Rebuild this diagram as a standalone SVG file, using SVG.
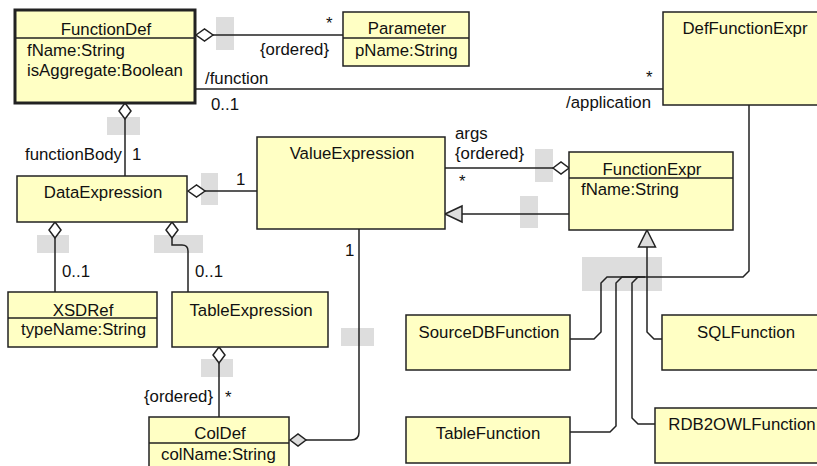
<svg xmlns="http://www.w3.org/2000/svg" width="817" height="466" viewBox="0 0 817 466">
<style>
.box{fill:#ffffc4;stroke:#222;stroke-width:1.5}
.sep{stroke:#222;stroke-width:1.5}
.t{font-family:"Liberation Sans",Arial,sans-serif;font-size:16.8px;fill:#111}
.m{text-anchor:middle}
.e{text-anchor:end}
.ln{fill:none;stroke:#222;stroke-width:1.5}
.lbl{fill:#dddddd}
.dia{fill:#fff;stroke:#222;stroke-width:1.5}
.gdia{fill:#ddd;stroke:#222;stroke-width:1.5}
.tri{fill:#ddd;stroke:#222;stroke-width:1.5}
</style>
<rect width="817" height="466" fill="#fff"/>
<g id="label-boxes">
<rect class="lbl" x="216" y="17" width="18" height="33"/>
<rect class="lbl" x="107" y="117" width="33" height="18"/>
<rect class="lbl" x="201" y="173" width="17" height="32"/>
<rect class="lbl" x="37" y="235" width="32" height="18"/>
<rect class="lbl" x="154" y="235" width="49" height="18"/>
<rect class="lbl" x="201" y="359" width="32" height="18"/>
<rect class="lbl" x="341" y="328" width="33" height="18"/>
<rect class="lbl" x="535" y="149" width="18" height="33"/>
<rect class="lbl" x="520" y="196" width="18" height="32"/>
<rect class="lbl" x="582" y="257" width="80" height="34"/>
</g>
<g id="connectors">
<line class="ln" x1="213" y1="35" x2="343" y2="35"/>
<polygon class="dia" points="196,35 204.5,29 213,35 204.5,41"/>
<line class="ln" x1="195" y1="89" x2="663" y2="89"/>
<line class="ln" x1="125" y1="119" x2="125" y2="176"/>
<polygon class="dia" points="125,103 131,111 125,119 119,111"/>
<line class="ln" x1="205" y1="191" x2="257" y2="191"/>
<polygon class="dia" points="188,191 196.5,185 205,191 196.5,197"/>
<line class="ln" x1="55" y1="238" x2="55" y2="292"/>
<polygon class="dia" points="55,222 61,230 55,238 49,230"/>
<path class="ln" d="M172,238 V245 H182 Q188,245 188,251 V292"/>
<polygon class="dia" points="172,222 178,230 172,238 166,230"/>
<line class="ln" x1="445" y1="168" x2="553" y2="168"/>
<polygon class="dia" points="553,168 561,162 569,168 561,174"/>
<line class="ln" x1="569" y1="214" x2="462" y2="214"/>
<polygon class="tri" points="445,214 462,206 462,222"/>
<line class="ln" x1="219" y1="363" x2="219" y2="417"/>
<polygon class="dia" points="219,347 225,355 219,363 213,355"/>
<path class="ln" d="M306,440 H351 Q359,440 359,432 V229"/>
<polygon class="gdia" points="290,440 298,434 306,440 298,446"/>
<path class="ln" d="M647,247 V332 L654,339 H662"/>
<path class="ln" d="M570,339 H594 L601,332 V283 L607,277 H743 L749,271 V105"/>
<path class="ln" d="M570,432 H610 L616,426 V283 L622,277 H640"/>
<path class="ln" d="M655,424 H638 L632,418 V283 L638,277 H645"/>
<polygon class="tri" points="647,230 655.5,247 638.5,247"/>
</g>
<g id="labels" class="t">
<text x="326" y="29">*</text>
<text x="260" y="55">{ordered}</text>
<text x="205" y="84">/function</text>
<text x="211" y="110">0..1</text>
<text x="646" y="83">*</text>
<text class="e" x="651" y="108">/application</text>
<text class="e" x="122" y="160">functionBody</text>
<text x="132" y="160">1</text>
<text x="236" y="185">1</text>
<text x="455" y="139">args</text>
<text x="455" y="159">{ordered}</text>
<text x="459" y="187">*</text>
<text x="62" y="277">0..1</text>
<text x="195" y="277">0..1</text>
<text class="e" x="213" y="402">{ordered}</text>
<text x="225" y="403">*</text>
<text x="345" y="256">1</text>
</g>
<g id="FunctionDef">
<rect class="box" x="15" y="10" width="180" height="93" style="stroke-width:3"/>
<line class="sep" x1="15" y1="38" x2="195" y2="38"/>
<text class="t m" x="106" y="35">FunctionDef</text>
<text class="t" x="27" y="56">fName:String</text>
<text class="t" x="27" y="76">isAggregate:Boolean</text>
</g>
<g id="Parameter">
<rect class="box" x="343" y="12" width="126" height="54"/>
<line class="sep" x1="343" y1="38" x2="469" y2="38"/>
<text class="t m" x="407" y="34">Parameter</text>
<text class="t" x="355" y="56">pName:String</text>
</g>
<g id="DefFunctionExpr">
<rect class="box" x="663" y="12" width="165" height="93"/>
<text class="t m" x="745" y="34">DefFunctionExpr</text>
</g>
<g id="ValueExpression">
<rect class="box" x="257" y="137" width="188" height="92"/>
<text class="t m" x="352" y="159">ValueExpression</text>
</g>
<g id="FunctionExpr">
<rect class="box" x="569" y="152" width="164" height="78"/>
<line class="sep" x1="569" y1="178" x2="733" y2="178"/>
<text class="t m" x="652" y="175">FunctionExpr</text>
<text class="t" x="581" y="195">fName:String</text>
</g>
<g id="DataExpression">
<rect class="box" x="17" y="176" width="170" height="46"/>
<text class="t m" x="103" y="198">DataExpression</text>
</g>
<g id="XSDRef">
<rect class="box" x="8" y="292" width="149" height="55"/>
<line class="sep" x1="8" y1="318" x2="157" y2="318"/>
<text class="t m" x="83" y="316">XSDRef</text>
<text class="t" x="21" y="335">typeName:String</text>
</g>
<g id="TableExpression">
<rect class="box" x="172" y="292" width="156" height="55"/>
<text class="t m" x="251" y="316">TableExpression</text>
</g>
<g id="ColDef">
<rect class="box" x="149" y="417" width="140" height="52"/>
<line class="sep" x1="149" y1="443" x2="289" y2="443"/>
<text class="t m" x="220" y="439">ColDef</text>
<text class="t" x="161" y="460">colName:String</text>
</g>
<g id="SourceDBFunction">
<rect class="box" x="406" y="315" width="164" height="55"/>
<text class="t m" x="489" y="338">SourceDBFunction</text>
</g>
<g id="TableFunction">
<rect class="box" x="406" y="417" width="164" height="46"/>
<text class="t m" x="488" y="439">TableFunction</text>
</g>
<g id="SQLFunction">
<rect class="box" x="662" y="315" width="166" height="55"/>
<text class="t m" x="746" y="338">SQLFunction</text>
</g>
<g id="RDB2OWLFunction">
<rect class="box" x="655" y="408" width="175" height="55"/>
<text class="t m" x="742" y="430">RDB2OWLFunction</text>
</g>
</svg>
